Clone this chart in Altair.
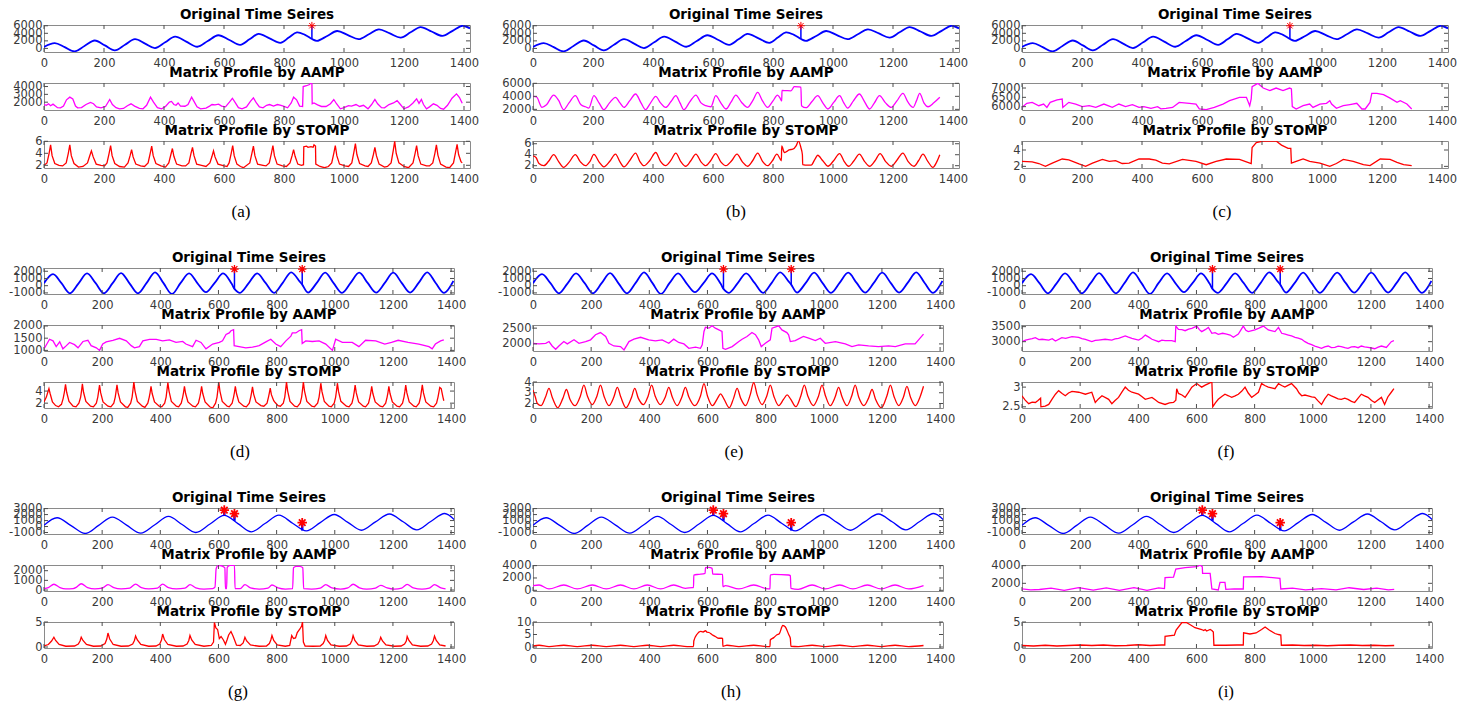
import altair as alt
import pandas as pd

# ---------------------------------------------------------------- ticks
X_TICKS = [0, 200, 400, 600, 800, 1000, 1200, 1400]

# ---------------------------------------------------------------- row 1: drifting sinusoid with one spike
R1_ORIG = [(0, 400), (36, 1400), (69, 330), (102, -780), (135, 650), (169, 2090), (203, 790), (236, -520),
           (270, 960), (303, 2440), (337, 1270), (370, 90), (404, 1610), (437, 3130), (474, 1780), (511, 435),
           (546, 1960), (581, 3480), (618, 2220), (654, 960), (685, 2400), (715, 3830), (752, 2650), (788, 1480),
           (816, 2870), (843, 4260), (870, 3600), (893, 2500), (910, 2000), (944, 3300), (977, 4610), (1013, 3520),
           (1049, 2440), (1083, 3750), (1116, 5050), (1153, 3960), (1189, 2870), (1222, 4260), (1255, 5650),
           (1292, 4480), (1328, 3300), (1362, 4650), (1395, 6000), (1420, 5300)]
R1_SPIKE_X = [893]
R1_SPIKE_LO = [2500]
R1_SPIKE_HI = [6000]

A_AAMP = [(0, 1700), (8, 1600), (15, 1800), (22, 1550), (30, 1750), (38, 1500), (45, 1300), (55, 1280), (65, 1500),
          (75, 2300), (86, 2640), (96, 2400), (105, 1500), (112, 1280), (125, 1300), (140, 1700), (155, 1960),
          (165, 1800), (175, 1400), (190, 1280), (205, 1450), (219, 2340), (228, 1700), (240, 1300), (252, 1150),
          (265, 1200), (278, 1550), (290, 1790), (302, 1500), (318, 1200), (330, 1150), (342, 1600), (355, 2640),
          (365, 2000), (378, 1300), (392, 1150), (405, 1450), (418, 2000), (425, 2090), (433, 1700), (440, 1600),
          (447, 1900), (455, 1500), (470, 1480), (480, 1700), (492, 2640), (500, 2100), (510, 1400), (522, 1150),
          (540, 1250), (552, 1500), (560, 1700), (570, 1650), (582, 1750), (592, 1500), (605, 1400), (618, 2000),
          (628, 2500), (638, 1900), (648, 1300), (660, 1150), (675, 1400), (688, 2100), (698, 2550), (708, 1900),
          (718, 1400), (730, 1280), (742, 1600), (752, 1700), (765, 1500), (778, 1700), (790, 1600), (800, 1450),
          (812, 1280), (824, 1900), (832, 2640), (842, 2300), (852, 1500), (862, 1450), (864, 4000), (875, 4100),
          (885, 4250), (890, 4470), (893, 4450), (894, 1790), (900, 1900), (912, 1650), (925, 1450), (940, 1450),
          (955, 1800), (966, 2340), (975, 1800), (988, 1150), (1000, 1300), (1015, 1550), (1025, 1500), (1040, 1700),
          (1052, 1450), (1065, 1600), (1080, 1150), (1092, 1700), (1103, 2340), (1112, 1800), (1125, 1300),
          (1135, 1280), (1150, 1700), (1165, 1900), (1177, 2200), (1188, 1700), (1200, 1150), (1215, 1400),
          (1230, 1900), (1242, 2430), (1250, 1850), (1258, 2350), (1265, 1700), (1275, 1150), (1285, 1400),
          (1298, 1790), (1310, 1600), (1322, 1200), (1332, 1100), (1345, 1600), (1360, 2500), (1375, 3060),
          (1385, 2600), (1394, 1870)]

A_STOMP = [(0, 2.0), (10, 2.4), (17, 4.0), (22, 5.4), (27, 3.6), (36, 2.3), (50, 2.0), (62, 1.9), (74, 2.4), (81, 4.0),
           (86, 5.4), (91, 3.6), (100, 2.3), (115, 1.7), (130, 1.8), (145, 2.4), (152, 3.5), (158, 4.4), (164, 3.4),
           (174, 2.2), (190, 2.0), (202, 1.9), (210, 2.4), (217, 4.0), (222, 5.3), (227, 3.6), (236, 2.3), (252, 1.8),
           (268, 1.7), (280, 2.4), (287, 3.6), (292, 4.6), (297, 3.4), (306, 2.2), (322, 1.9), (335, 1.8), (347, 2.4),
           (354, 4.0), (359, 5.2), (364, 3.6), (373, 2.3), (390, 1.9), (405, 1.7), (416, 2.4), (423, 3.8), (428, 4.8),
           (433, 3.5), (442, 2.2), (460, 1.9), (472, 1.9), (483, 2.4), (490, 4.0), (495, 5.0), (500, 3.6), (509, 2.2),
           (525, 2.0), (540, 1.8), (553, 2.4), (560, 3.5), (565, 4.4), (570, 3.4), (580, 2.2), (600, 1.9), (610, 1.8),
           (617, 2.4), (624, 4.0), (629, 5.3), (634, 3.6), (643, 2.2), (655, 1.8), (665, 1.6), (686, 2.4), (693, 4.0),
           (698, 5.2), (703, 3.6), (712, 2.2), (730, 2.0), (740, 1.9), (751, 2.4), (758, 4.0), (763, 5.3), (768, 3.6),
           (777, 2.2), (795, 1.9), (808, 1.8), (820, 2.4), (827, 3.6), (832, 4.6), (837, 3.5), (846, 2.2), (858, 2.0),
           (865, 2.1), (866, 5.1), (875, 5.2), (880, 5.0), (890, 5.1), (897, 5.0), (900, 5.4), (905, 5.2), (906, 2.2),
           (920, 1.8), (935, 1.6), (948, 1.8), (959, 2.4), (966, 4.0), (971, 5.3), (976, 3.6), (985, 2.2), (1003, 1.9),
           (1015, 1.8), (1026, 2.4), (1033, 4.2), (1038, 5.6), (1043, 3.8), (1052, 2.3), (1070, 1.9), (1080, 1.8),
           (1091, 2.4), (1098, 3.8), (1103, 5.0), (1108, 3.6), (1117, 2.2), (1135, 1.7), (1145, 1.8), (1157, 2.4),
           (1164, 4.4), (1169, 6.0), (1174, 4.0), (1183, 2.4), (1200, 1.8), (1215, 1.6), (1230, 2.4), (1237, 4.0),
           (1242, 5.3), (1247, 3.6), (1256, 2.2), (1275, 1.9), (1285, 1.9), (1296, 2.4), (1303, 4.0), (1308, 5.4),
           (1313, 3.7), (1322, 2.2), (1340, 1.7), (1352, 1.6), (1365, 2.4), (1372, 4.2), (1377, 5.5), (1382, 3.8),
           (1390, 2.6), (1394, 2.4)]

B_AAMP = [(0, 4000), (12, 3900), (30, 2300), (45, 2700), (69, 4200), (85, 3400), (102, 1950), (120, 3000), (141, 4100),
          (160, 2700), (175, 2400), (186, 2200), (203, 4100), (220, 3000), (236, 1950), (255, 3000), (275, 3850),
          (290, 3000), (303, 2300), (322, 3300), (342, 4360), (360, 3000), (375, 1950), (392, 3000), (409, 4000),
          (425, 3000), (442, 2300), (460, 3200), (476, 4100), (490, 3000), (503, 1950), (522, 3100), (543, 4200),
          (560, 3000), (576, 2560), (593, 2400), (609, 4100), (626, 3000), (643, 2050), (660, 3100), (676, 4200),
          (695, 3100), (715, 2300), (732, 3300), (749, 4600), (765, 3300), (782, 2300), (800, 3300), (815, 4200),
          (824, 3700), (829, 3300), (830, 4900), (845, 4870), (860, 4850), (871, 5500), (885, 5450), (893, 5400),
          (895, 2560), (910, 2250), (930, 3200), (949, 4100), (966, 3000), (983, 2050), (1003, 3100), (1022, 4100),
          (1036, 3000), (1049, 2200), (1068, 3300), (1088, 4360), (1105, 3200), (1122, 2050), (1138, 3000),
          (1155, 4100), (1175, 3000), (1194, 2300), (1213, 3300), (1233, 4460), (1250, 3100), (1267, 2300),
          (1278, 3300), (1289, 4460), (1303, 3000), (1317, 2400), (1336, 3000), (1356, 3850)]

B_STOMP = [(0, 3.8), (10, 3.5), (20, 2.4), (36, 2.0), (52, 2.8), (69, 4.0), (85, 2.8), (102, 1.7), (120, 2.6), (141, 4.0),
           (158, 2.7), (175, 2.0), (190, 2.8), (203, 4.05), (220, 2.7), (236, 1.8), (256, 2.8), (275, 4.1), (290, 2.7),
           (303, 1.8), (322, 2.9), (342, 4.3), (356, 2.8), (370, 2.0), (390, 3.0), (409, 4.4), (425, 2.8), (442, 2.0),
           (460, 3.0), (476, 4.3), (492, 2.8), (509, 1.9), (526, 2.9), (543, 4.1), (560, 2.7), (576, 2.0), (592, 2.9),
           (609, 4.2), (626, 2.7), (643, 2.0), (662, 2.9), (680, 4.1), (698, 2.7), (715, 1.9), (732, 2.9), (749, 4.3),
           (765, 2.8), (782, 2.0), (798, 2.9), (813, 4.1), (824, 3.2), (828, 2.9), (829, 5.6), (838, 4.4), (846, 4.6),
           (854, 4.9), (866, 5.0), (877, 5.6), (885, 6.5), (893, 5.3), (898, 4.0), (899, 2.2), (915, 2.1), (927, 2.1),
           (940, 3.2), (949, 3.9), (966, 2.9), (983, 1.9), (1002, 2.9), (1022, 4.2), (1037, 2.8), (1052, 1.9),
           (1070, 2.9), (1088, 4.1), (1105, 2.8), (1122, 1.9), (1140, 2.9), (1157, 4.2), (1175, 2.8), (1194, 1.9),
           (1213, 3.0), (1233, 4.3), (1250, 2.8), (1270, 1.9), (1285, 2.9), (1300, 4.1), (1316, 2.8), (1333, 1.7),
           (1345, 2.6), (1356, 4.0)]

C_AAMP = [(0, 5960), (16, 6180), (34, 6230), (56, 6050), (72, 6140), (83, 5960), (94, 6230), (117, 6360), (134, 6410),
          (136, 5960), (156, 6230), (179, 6140), (201, 6000), (224, 6050), (246, 5960), (273, 6140), (301, 5960),
          (323, 6140), (345, 6000), (368, 6110), (390, 5960), (406, 6000), (430, 5910), (452, 6000), (463, 5880),
          (480, 5910), (502, 5960), (524, 6230), (558, 6180), (580, 6140), (591, 5880), (614, 5840), (641, 5960),
          (670, 6140), (692, 6320), (725, 6500), (748, 6500), (759, 6050), (764, 6410), (767, 7070), (786, 7250),
          (804, 7000), (826, 6860), (847, 7000), (870, 6860), (892, 7000), (898, 6950), (901, 6000), (914, 5875),
          (937, 6050), (959, 6140), (970, 5960), (993, 6140), (1015, 6180), (1026, 6320), (1032, 6140), (1048, 5910),
          (1071, 6050), (1093, 6110), (1116, 6180), (1133, 5875), (1144, 5875), (1160, 6230), (1166, 6710),
          (1183, 6710), (1205, 6640), (1227, 6460), (1250, 6230), (1261, 6320), (1283, 6140), (1299, 5875)]

C_STOMP = [(0, 2.6), (34, 2.55), (56, 2.35), (78, 2.0), (101, 2.4), (134, 2.9), (156, 2.8), (190, 2.3), (212, 2.0),
           (235, 2.4), (268, 2.85), (291, 2.6), (312, 2.7), (334, 2.35), (357, 2.4), (390, 2.9), (424, 2.9),
           (446, 2.75), (468, 2.4), (491, 2.3), (535, 2.85), (580, 2.6), (614, 2.2), (647, 2.6), (681, 2.9),
           (725, 2.85), (748, 2.55), (764, 2.35), (767, 4.3), (781, 4.9), (804, 5.1), (847, 5.1), (865, 4.6),
           (887, 4.2), (896, 4.2), (898, 2.4), (914, 2.6), (937, 2.9), (959, 2.6), (993, 2.4), (1026, 2.0),
           (1048, 2.35), (1071, 2.85), (1104, 2.6), (1138, 2.2), (1160, 2.1), (1194, 2.9), (1227, 2.85), (1250, 2.5),
           (1272, 2.2), (1299, 2.1)]

# ---------------------------------------------------------------- row 2: steady sinusoid with two spikes
R2_ORIG = [(0, 350), (31, 1600), (60, 350), (89, -1050), (119, 330), (148, 1700), (177, 380), (206, -1050),
           (236, 350), (265, 1750), (294, 330), (323, -1050), (353, 400), (382, 1850), (411, 350), (440, -1150),
           (470, 380), (499, 1700), (528, 330), (557, -900), (587, 400), (616, 1700), (645, 300), (655, -450),
           (674, -1000), (704, 350), (733, 1700), (762, 380), (791, -1000), (821, 400), (850, 1850), (879, 600),
           (888, 150), (908, -950), (938, 380), (967, 1800), (996, 350), (1025, -1000), (1055, 420), (1084, 1800),
           (1113, 380), (1142, -950), (1172, 380), (1201, 1800), (1230, 400), (1259, -950), (1289, 420), (1318, 1850),
           (1347, 380), (1376, -1000), (1408, 650)]
R2_SPIKE_X = [655, 888]
R2_SPIKE_LO = [-450, 150]
R2_SPIKE_HI = [2300, 2300]

D_AAMP = [(2, 1100), (19, 1455), (31, 1390), (42, 1155), (54, 1350), (65, 1065), (77, 1195), (88, 1325), (105, 1235),
          (117, 1105), (134, 1365), (151, 1415), (162, 1195), (180, 1105), (191, 1000), (202, 1260), (214, 1350),
          (237, 1415), (260, 1495), (283, 1390), (300, 1195), (311, 1105), (328, 1155), (340, 1390), (363, 1455),
          (386, 1455), (408, 1390), (431, 1430), (454, 1325), (477, 1365), (488, 1260), (511, 1155), (523, 1415),
          (540, 1325), (557, 1065), (580, 1260), (603, 1325), (614, 1390), (626, 1650), (637, 1715), (643, 1805),
          (652, 1845), (654, 1195), (671, 1155), (694, 1105), (717, 1130), (740, 1195), (763, 1350), (780, 1455),
          (797, 1260), (814, 1155), (832, 1390), (849, 1585), (854, 1715), (866, 1715), (877, 1805), (886, 1845),
          (888, 1285), (900, 1390), (923, 1365), (946, 1390), (969, 1260), (992, 1000), (1003, 1455), (1026, 1325),
          (1060, 1325), (1083, 1155), (1106, 1415), (1141, 1390), (1172, 1260), (1195, 1325), (1218, 1415),
          (1252, 1325), (1289, 1260), (1324, 1155), (1335, 1065), (1346, 1260), (1364, 1390), (1375, 1430)]

D_STOMP = [(0, 2.2), (8, 3.0), (13, 3.8), (17, 4.4), (21, 3.6), (29, 2.2), (40, 1.6), (50, 1.4), (60, 1.8), (66, 2.8),
           (70, 3.8), (74, 5.1), (78, 3.8), (86, 2.3), (100, 1.5), (110, 1.4), (120, 2.0), (126, 3.0), (129, 4.0),
           (132, 5.2), (136, 3.8), (144, 2.3), (160, 1.5), (170, 1.4), (180, 2.0), (185, 3.0), (188, 4.0), (191, 5.0),
           (195, 3.7), (203, 2.2), (220, 1.5), (230, 1.4), (240, 2.0), (245, 3.0), (248, 4.0), (251, 5.05), (255, 3.7),
           (263, 2.2), (280, 1.4), (288, 1.3), (298, 2.0), (303, 3.0), (306, 4.2), (309, 5.5), (313, 4.0), (321, 2.3),
           (338, 1.5), (347, 1.3), (357, 2.0), (362, 3.0), (365, 3.8), (368, 4.8), (372, 3.6), (380, 2.2), (396, 1.5),
           (405, 1.4), (415, 2.0), (420, 3.0), (423, 4.2), (426, 5.4), (430, 4.0), (438, 2.3), (455, 1.5), (463, 1.4),
           (472, 2.0), (477, 3.0), (480, 3.8), (483, 4.8), (487, 3.6), (495, 2.2), (512, 1.5), (521, 1.4), (531, 2.0),
           (536, 3.0), (539, 3.8), (542, 4.8), (546, 3.6), (554, 2.2), (570, 1.4), (580, 1.2), (590, 2.0), (595, 3.0),
           (598, 4.2), (601, 5.5), (605, 4.0), (613, 2.3), (630, 1.5), (637, 1.4), (647, 2.0), (652, 3.0), (655, 3.8),
           (658, 4.8), (662, 3.6), (670, 2.2), (687, 1.5), (696, 1.4), (706, 2.0), (711, 3.0), (714, 3.8), (717, 4.7),
           (721, 3.5), (729, 2.2), (746, 1.6), (756, 1.5), (767, 2.0), (772, 3.0), (775, 3.7), (778, 4.5), (782, 3.4),
           (790, 2.4), (795, 2.1), (805, 1.6), (813, 1.5), (823, 2.0), (828, 3.0), (831, 4.2), (834, 5.5), (838, 4.0),
           (846, 2.3), (862, 1.5), (871, 1.4), (881, 2.0), (886, 3.0), (889, 4.2), (892, 5.5), (896, 4.0), (904, 2.3),
           (921, 1.5), (930, 1.4), (941, 2.0), (946, 3.0), (949, 4.1), (952, 5.3), (956, 3.9), (964, 2.3), (980, 1.5),
           (988, 1.4), (998, 2.0), (1003, 3.0), (1006, 4.1), (1009, 5.3), (1013, 3.9), (1021, 2.3), (1040, 1.5),
           (1049, 1.4), (1059, 2.0), (1064, 3.0), (1067, 3.9), (1070, 5.0), (1074, 3.7), (1082, 2.2), (1098, 1.5),
           (1106, 1.4), (1116, 2.0), (1121, 3.0), (1124, 3.8), (1127, 4.8), (1131, 3.6), (1139, 2.2), (1156, 1.5),
           (1165, 1.4), (1175, 2.0), (1180, 3.0), (1183, 3.8), (1186, 4.8), (1190, 3.6), (1198, 2.2), (1214, 1.5),
           (1223, 1.4), (1233, 2.0), (1238, 3.0), (1241, 3.9), (1244, 5.0), (1248, 3.7), (1256, 2.2), (1272, 1.5),
           (1280, 1.4), (1290, 2.0), (1295, 3.0), (1298, 4.0), (1301, 5.05), (1305, 3.7), (1313, 2.2), (1330, 1.5),
           (1340, 1.4), (1350, 2.0), (1355, 3.0), (1358, 3.8), (1361, 4.6), (1366, 4.4), (1372, 3.0), (1375, 2.4)]

E_AAMP = [(0, 2020), (21, 2000), (44, 2020), (55, 2075), (66, 1935), (78, 1830), (89, 1935), (106, 2075), (118, 2000),
          (141, 2130), (158, 2020), (181, 2075), (198, 2130), (215, 2290), (232, 2360), (250, 2235), (261, 2020),
          (278, 1935), (301, 1915), (313, 1810), (330, 2075), (347, 2150), (370, 2210), (398, 2130), (421, 2095),
          (444, 2130), (467, 2020), (484, 2150), (501, 2045), (519, 2000), (536, 1860), (559, 1895), (576, 1860),
          (582, 1970), (588, 2395), (593, 2530), (605, 2500), (616, 2575), (627, 2500), (650, 2395), (653, 1860),
          (662, 1830), (685, 1915), (708, 2075), (719, 2150), (736, 2235), (753, 2360), (765, 2290), (776, 2130),
          (785, 1915), (799, 2020), (816, 2130), (822, 2500), (845, 2575), (856, 2445), (873, 2360), (879, 2290),
          (885, 2075), (902, 2105), (930, 2235), (948, 2180), (971, 2105), (988, 2180), (1005, 2020), (1040, 2075),
          (1074, 2000), (1097, 1915), (1120, 1970), (1154, 1935), (1188, 1915), (1223, 1935), (1246, 1915),
          (1280, 2000), (1314, 2000), (1326, 2130), (1343, 2310)]

E_STOMP = [(0, 3.25), (8, 2.6), (15, 2.0), (28, 1.8), (43, 2.6), (55, 3.4), (67, 2.5), (85, 1.6), (103, 2.5), (115, 3.3),
           (127, 2.4), (145, 1.8), (163, 2.7), (175, 3.7), (187, 2.7), (204, 1.9), (220, 2.7), (232, 3.7), (244, 2.7),
           (261, 1.8), (278, 2.6), (290, 3.5), (302, 2.6), (320, 1.6), (338, 2.5), (350, 3.4), (362, 2.5), (380, 1.9),
           (396, 2.7), (408, 3.7), (420, 2.7), (438, 1.9), (455, 2.6), (467, 3.5), (479, 2.6), (496, 1.8), (512, 2.6),
           (524, 3.5), (536, 2.6), (556, 1.8), (576, 2.7), (588, 3.85), (600, 2.7), (617, 1.8), (635, 2.5), (645, 2.9),
           (657, 2.4), (675, 1.6), (690, 2.5), (702, 3.4), (714, 2.5), (731, 1.8), (747, 2.8), (759, 3.95), (771, 2.8),
           (788, 1.9), (804, 2.7), (816, 3.7), (828, 2.7), (845, 1.8), (862, 2.4), (874, 2.8), (886, 2.4), (904, 1.7),
           (921, 2.7), (933, 3.7), (945, 2.7), (964, 1.8), (982, 2.7), (994, 3.7), (1006, 2.7), (1022, 1.8),
           (1039, 2.6), (1051, 3.5), (1063, 2.6), (1080, 1.8), (1096, 2.7), (1108, 3.7), (1120, 2.6), (1138, 1.8),
           (1154, 2.5), (1166, 3.3), (1178, 2.4), (1198, 1.6), (1217, 2.7), (1229, 3.7), (1241, 2.7), (1258, 1.8),
           (1274, 2.6), (1286, 3.6), (1298, 2.6), (1315, 1.8), (1331, 2.6), (1343, 3.6)]

F_AAMP = [(0, 3000), (12, 3050), (23, 3080), (35, 3100), (46, 3135), (58, 3070), (69, 3080), (92, 3055), (104, 3100),
          (115, 3020), (137, 3135), (150, 3110), (172, 3165), (195, 3145), (206, 3100), (218, 3080), (240, 3000),
          (252, 3040), (263, 3055), (286, 3080), (309, 3055), (320, 3090), (332, 3110), (355, 3190), (366, 3150),
          (378, 3110), (401, 3055), (413, 3120), (424, 3220), (436, 3150), (447, 3080), (470, 3000), (481, 3050),
          (492, 3035), (515, 3035), (527, 3000), (529, 3520), (538, 3410), (550, 3400), (561, 3365), (573, 3420),
          (584, 3445), (601, 3520), (610, 3400), (618, 3335), (630, 3400), (641, 3475), (653, 3280), (664, 3300),
          (675, 3245), (690, 3280), (704, 3255), (716, 3220), (727, 3145), (744, 3255), (761, 3520), (770, 3380),
          (778, 3335), (801, 3390), (815, 3450), (830, 3520), (847, 3390), (860, 3360), (870, 3335), (882, 3475),
          (893, 3280), (905, 3250), (916, 3220), (927, 3190), (939, 3145), (950, 3120), (962, 3080), (973, 3000),
          (984, 2945), (996, 2900), (1007, 2855), (1018, 2820), (1030, 2780), (1041, 2830), (1053, 2855),
          (1064, 2800), (1076, 2810), (1087, 2850), (1098, 2835), (1110, 2800), (1121, 2780), (1133, 2830),
          (1144, 2835), (1156, 2800), (1167, 2855), (1178, 2830), (1190, 2810), (1202, 2790), (1213, 2765),
          (1225, 2820), (1236, 2855), (1253, 2810), (1270, 3000), (1279, 3035)]

F_STOMP = [(0, 2.78), (11, 2.67), (23, 2.58), (35, 2.62), (46, 2.61), (55, 2.66), (64, 2.72), (65, 2.5), (80, 2.52),
           (92, 2.56), (104, 2.7), (115, 2.82), (126, 2.91), (138, 2.84), (149, 2.78), (160, 2.85), (172, 2.89),
           (195, 2.87), (206, 2.85), (218, 2.82), (240, 2.87), (252, 2.61), (263, 2.7), (275, 2.78), (298, 2.69),
           (309, 2.58), (320, 2.66), (332, 2.74), (344, 2.88), (355, 3.0), (366, 2.92), (378, 2.87), (401, 2.82),
           (412, 2.76), (424, 2.69), (447, 2.74), (458, 2.68), (470, 2.61), (492, 2.56), (507, 2.6), (521, 2.61),
           (529, 2.67), (532, 2.96), (538, 2.84), (550, 2.8), (561, 2.74), (572, 2.86), (584, 3.0), (601, 3.09),
           (610, 3.04), (618, 3.0), (630, 3.05), (641, 3.09), (653, 3.13), (656, 2.5), (665, 2.6), (675, 2.69),
           (687, 2.76), (698, 2.82), (710, 2.78), (721, 2.74), (733, 2.78), (744, 2.82), (756, 2.9), (767, 3.0),
           (778, 2.85), (790, 2.74), (801, 2.8), (813, 2.87), (824, 3.09), (835, 3.04), (847, 3.0), (858, 2.98),
           (870, 2.96), (882, 3.09), (893, 3.04), (904, 3.0), (916, 3.05), (927, 3.09), (944, 2.96), (953, 2.85),
           (962, 2.78), (973, 2.8), (984, 2.78), (996, 2.75), (1007, 2.74), (1018, 2.65), (1030, 2.56), (1041, 2.7),
           (1053, 2.82), (1064, 2.78), (1076, 2.74), (1087, 2.7), (1098, 2.69), (1110, 2.72), (1121, 2.69),
           (1133, 2.64), (1144, 2.61), (1156, 2.72), (1167, 2.82), (1178, 2.78), (1190, 2.74), (1202, 2.66),
           (1213, 2.61), (1225, 2.68), (1236, 2.74), (1247, 2.56), (1258, 2.75), (1270, 2.87), (1279, 2.96)]

# ---------------------------------------------------------------- row 3: clean sinusoid with three spikes
R3_ORIG = [(0, 200), (45, 1470), (93, 150), (142, -1160), (188, 200), (235, 1580), (284, 230), (333, -1110),
           (380, 250), (428, 1690), (475, 330), (522, -1000), (571, 420), (620, 1850), (667, 480), (713, -890),
           (760, 500), (808, 1900), (855, 550), (902, -730), (950, 650), (998, 2010), (1045, 700), (1092, -620),
           (1140, 780), (1188, 2100), (1235, 800), (1282, -560), (1330, 850), (1378, 2180), (1412, 1100)]
R3_SPIKE_X = [620, 655, 888]
R3_SPIKE_LO = [1850, 950, -680]
R3_SPIKE_HI = [2750, 2150, 650]

G_AAMP = [(0, 150), (15, 250), (34, 600), (55, 250), (75, 120), (100, 150), (112, 300), (128, 650), (150, 250),
          (175, 120), (200, 200), (220, 560), (240, 250), (265, 120), (295, 200), (315, 620), (335, 250), (360, 120),
          (390, 200), (408, 620), (428, 250), (455, 120), (485, 200), (502, 550), (522, 230), (550, 100), (580, 150),
          (588, 300), (592, 2200), (597, 2500), (605, 2530), (615, 2450), (622, 2300), (624, 150), (628, 150),
          (630, 2350), (640, 2550), (655, 2550), (657, 150), (675, 150), (691, 550), (710, 220), (740, 100),
          (770, 200), (784, 520), (805, 220), (830, 100), (855, 150), (858, 2300), (867, 2450), (880, 2450),
          (890, 2300), (893, 150), (920, 100), (950, 200), (969, 550), (990, 220), (1020, 100), (1045, 220),
          (1063, 600), (1085, 230), (1110, 100), (1140, 200), (1158, 480), (1180, 220), (1205, 100), (1230, 200),
          (1249, 580), (1270, 230), (1300, 100), (1325, 200), (1343, 550), (1365, 230), (1381, 120)]

G_STOMP = [(0, 0.2), (15, 0.5), (26, 1.2), (34, 1.95), (40, 1.3), (52, 0.5), (75, 0.15), (105, 0.2), (118, 0.6),
           (124, 1.2), (128, 1.95), (134, 1.3), (146, 0.5), (170, 0.15), (195, 0.2), (210, 0.7), (216, 1.6),
           (220, 2.8), (226, 1.6), (238, 0.5), (265, 0.15), (290, 0.2), (305, 0.6), (311, 1.3), (315, 2.2),
           (321, 1.4), (333, 0.5), (360, 0.15), (385, 0.2), (398, 0.6), (404, 1.4), (408, 2.6), (414, 1.5),
           (426, 0.5), (455, 0.15), (478, 0.2), (492, 0.6), (498, 1.3), (502, 2.3), (508, 1.4), (520, 0.5),
           (550, 0.15), (575, 0.3), (583, 1.0), (586, 4.9), (591, 3.8), (597, 3.5), (603, 1.7), (609, 2.1),
           (617, 1.4), (624, 0.55), (630, 1.5), (635, 2.4), (643, 3.1), (650, 2.2), (654, 1.6), (662, 0.35),
           (675, 0.3), (685, 0.8), (691, 1.95), (697, 1.2), (710, 0.4), (740, 0.15), (765, 0.2), (775, 0.7),
           (780, 1.4), (784, 2.3), (790, 1.3), (802, 0.4), (830, 0.15), (845, 0.3), (852, 2.3), (858, 1.7),
           (865, 1.8), (871, 2.9), (880, 3.6), (886, 4.2), (889, 5.0), (892, 1.0), (898, 0.2), (925, 0.15),
           (950, 0.2), (960, 0.7), (965, 1.3), (969, 2.3), (975, 1.3), (987, 0.4), (1015, 0.15), (1040, 0.2),
           (1053, 0.6), (1059, 1.3), (1063, 2.3), (1069, 1.3), (1081, 0.4), (1110, 0.15), (1135, 0.2), (1148, 0.6),
           (1154, 1.2), (1158, 1.95), (1164, 1.2), (1176, 0.4), (1205, 0.15), (1228, 0.2), (1240, 0.6), (1246, 1.2),
           (1249, 2.1), (1255, 1.3), (1267, 0.4), (1295, 0.15), (1320, 0.2), (1333, 0.6), (1339, 1.3), (1343, 2.2),
           (1349, 1.3), (1361, 0.4), (1381, 0.2)]

H_AAMP = [(0, 760), (21, 860), (55, 220), (106, 860), (152, 220), (204, 860), (252, 220), (301, 860), (347, 220),
          (393, 860), (439, 220), (484, 860), (524, 330), (547, 440), (552, 450), (553, 2480), (570, 2590),
          (592, 2750), (593, 3670), (605, 3720), (616, 3560), (618, 2640), (650, 2590), (652, 2590), (653, 600),
          (662, 760), (708, 220), (759, 860), (810, 220), (815, 250), (816, 2480), (828, 2590), (879, 2480),
          (885, 2380), (887, 330), (912, 150), (960, 860), (1005, 220), (1055, 860), (1100, 220), (1150, 860),
          (1197, 220), (1245, 860), (1292, 220), (1343, 760)]

H_STOMP = [(0, 0.4), (21, 0.7), (55, 0.15), (106, 0.7), (152, 0.15), (204, 0.7), (252, 0.15), (301, 0.7), (347, 0.15),
           (393, 0.7), (439, 0.15), (484, 0.7), (530, 0.15), (552, 0.2), (553, 2.4), (564, 5.1), (576, 6.25),
           (585, 6.0), (593, 6.5), (599, 5.9), (605, 5.8), (616, 4.9), (627, 4.2), (639, 3.5), (650, 3.5), (652, 3.4),
           (653, 0.3), (667, 0.7), (708, 0.15), (759, 0.7), (805, 0.15), (815, 0.2), (816, 2.8), (828, 3.75),
           (839, 4.9), (847, 5.3), (859, 8.6), (868, 8.0), (879, 5.1), (885, 3.5), (887, 0.3), (912, 0.15),
           (960, 0.7), (1005, 0.15), (1055, 0.7), (1100, 0.15), (1150, 0.7), (1197, 0.15), (1245, 0.7), (1292, 0.15),
           (1343, 0.6)]

I_AAMP = [(0, 1360), (30, 1250), (60, 1300), (100, 1450), (145, 1210), (195, 1510), (245, 1220), (290, 1480),
          (335, 1210), (385, 1500), (430, 1210), (470, 1480), (490, 1400), (492, 2640), (521, 2700), (529, 3620),
          (561, 3770), (601, 3880), (613, 4060), (620, 3880), (621, 3130), (647, 3130), (653, 1360), (675, 1250),
          (681, 2110), (698, 2110), (701, 1320), (730, 1380), (761, 1360), (762, 2720), (824, 2760), (887, 2570),
          (890, 1360), (930, 1450), (975, 1250), (1030, 1400), (1080, 1250), (1125, 1500), (1175, 1300),
          (1220, 1450), (1260, 1250), (1280, 1320)]

I_STOMP = [(0, 0.3), (40, 0.2), (80, 0.35), (120, 0.2), (160, 0.3), (200, 0.4), (240, 0.3), (280, 0.4), (320, 0.25),
           (360, 0.3), (400, 0.45), (440, 0.3), (480, 0.4), (491, 0.4), (492, 2.15), (524, 2.35), (530, 3.4),
           (550, 4.9), (565, 4.9), (580, 4.4), (595, 3.85), (618, 3.5), (625, 3.3), (630, 3.5), (635, 3.2), (647, 3.5),
           (653, 3.3), (658, 3.0), (660, 0.35), (700, 0.35), (740, 0.4), (761, 0.4), (762, 2.85), (784, 2.6),
           (805, 2.8), (824, 3.5), (836, 4.0), (850, 3.4), (870, 2.7), (882, 2.5), (890, 2.4), (892, 0.35),
           (930, 0.4), (970, 0.3), (1010, 0.35), (1050, 0.25), (1090, 0.35), (1130, 0.4), (1170, 0.3), (1210, 0.35),
           (1250, 0.25), (1280, 0.3)]

# ---------------------------------------------------------------- styling
BLUE, MAGENTA, RED = "#0000ff", "#ff00ff", "#ff0000"
TICK_COLOR = "#4d4d4d"
LABEL_COLOR = "#3a3a3a"
ASTERISK = "M0,-1L0,1M-1,0L1,0M-0.7,-0.7L0.7,0.7M-0.7,0.7L0.7,-0.7"
# plain numbers: no thousands separator, ASCII hyphen for negatives
LABEL_EXPR = "datum.value < 0 ? '-' + format(-datum.value, '~g') : format(datum.value, '~g')"
AXIS_STYLE = dict(ticks=False, domain=False, grid=False, labelOverlap=False, labelFlush=False,
                  labelFont="DejaVu Sans", labelFontSize=11.5, labelColor=LABEL_COLOR, labelExpr=LABEL_EXPR)

ROWS = [
    dict(w=426, h=27, xmax=1420, orig=R1_ORIG, ydom=[-950, 6200], yticks=[0, 2000, 4000, 6000],
         spikes=(R1_SPIKE_X, R1_SPIKE_LO, R1_SPIKE_HI), orig_stroke=1.8, spike_stroke=1.5, star=(60, 1.0)),
    dict(w=410, h=26, xmax=1410, orig=R2_ORIG, ydom=[-1150, 2450], yticks=[-1000, 0, 1000, 2000],
         spikes=(R2_SPIKE_X, R2_SPIKE_LO, R2_SPIKE_HI), orig_stroke=1.8, spike_stroke=1.5, star=(70, 1.3)),
    dict(w=410, h=26, xmax=1410, orig=R3_ORIG, ydom=[-1250, 3100], yticks=[-1000, 0, 1000, 2000, 3000],
         spikes=(R3_SPIKE_X, R3_SPIKE_LO, R3_SPIKE_HI), orig_stroke=1.3, spike_stroke=2.5, star=(90, 1.8)),
]

PANELS = [
    [dict(cap="(a)", dx=-16, aamp=(A_AAMP, [1000, 4450], [2000, 3000, 4000], "linear"),
          stomp=(A_STOMP, [1.55, 6.05], [2, 4, 6], "linear")),
     dict(cap="(b)", dx=-10, aamp=(B_AAMP, [1900, 6050], [2000, 4000, 6000], "monotone"),
          stomp=(B_STOMP, [1.58, 6.5], [2, 4, 6], "monotone")),
     dict(cap="(c)", dx=-13, aamp=(C_AAMP, [5820, 7270], [6000, 6500, 7000], "linear"),
          stomp=(C_STOMP, [1.8, 5.1], [2, 4], "linear"))],
    [dict(cap="(d)", dx=-9, aamp=(D_AAMP, [975, 2040], [1000, 1500, 2000], "linear"),
          stomp=(D_STOMP, [1.2, 5.5], [2, 4], "linear")),
     dict(cap="(e)", dx=-4, aamp=(E_AAMP, [1775, 2600], [2000, 2500], "linear"),
          stomp=(E_STOMP, [1.58, 4.0], [2, 3, 4], "monotone")),
     dict(cap="(f)", dx=-1, aamp=(F_AAMP, [2690, 3555], [3000, 3500], "linear"),
          stomp=(F_STOMP, [2.47, 3.13], [2.5, 3], "linear"))],
    [dict(cap="(g)", dx=-11, aamp=(G_AAMP, [-100, 2590], [0, 1000, 2000], "monotone"),
          stomp=(G_STOMP, [-0.2, 5.0], [0, 5], "linear")),
     dict(cap="(h)", dx=-7, aamp=(H_AAMP, [-110, 4100], [0, 2000, 4000], "monotone"),
          stomp=(H_STOMP, [-0.4, 10], [0, 5, 10], "monotone")),
     dict(cap="(i)", dx=-1, aamp=(I_AAMP, [1130, 4075], [2000, 4000], "linear"),
          stomp=(I_STOMP, [-0.2, 5.0], [0, 5], "linear"))],
]


def subplot(title, pts, color, ydom, yticks, row, interp, stroke, spikes=None, caption=None, dx=0):
    w, h = row["w"], row["h"]
    xs = alt.Scale(domain=[0, row["xmax"]], nice=False, zero=False)
    ys = alt.Scale(domain=ydom, nice=False, zero=False)
    x_axis = alt.Axis(values=X_TICKS, labelPadding=5, **AXIS_STYLE)
    y_axis = alt.Axis(values=yticks, labelPadding=2, **AXIS_STYLE)

    # every layer carries the same scale and axis definition, so the merged axis stays intact
    def xe(field):
        return alt.X(field, type="quantitative", scale=xs, axis=x_axis, title=None)

    def ye(field):
        return alt.Y(field, type="quantitative", scale=ys, axis=y_axis, title=None)

    df = pd.DataFrame(pts, columns=["x", "y"])
    df["i"] = range(len(df))

    layers = [
        alt.Chart(df).mark_line(color=color, strokeWidth=stroke, interpolate=interp, clip=True).encode(
            x=xe("x"), y=ye("y"), order="i:Q"
        )
    ]

    # MATLAB-style box ticks pointing into the plot on all four sides
    xt = alt.Chart(pd.DataFrame({"t": X_TICKS}))
    yt = alt.Chart(pd.DataFrame({"t": yticks}))
    rule = dict(color=TICK_COLOR, strokeWidth=1)
    layers += [
        xt.mark_rule(**rule).encode(x=xe("t"), y=alt.value(0), y2=alt.value(4)),
        xt.mark_rule(**rule).encode(x=xe("t"), y=alt.value(h - 4), y2=alt.value(h)),
        yt.mark_rule(**rule).encode(y=ye("t"), x=alt.value(0), x2=alt.value(4)),
        yt.mark_rule(**rule).encode(y=ye("t"), x=alt.value(w - 4), x2=alt.value(w)),
    ]

    if spikes is not None:
        sx, lo, hi = spikes
        sdf = pd.DataFrame({"x": sx, "lo": lo, "hi": hi})
        layers.append(
            alt.Chart(sdf).mark_rule(color=BLUE, strokeWidth=row["spike_stroke"]).encode(
                x=xe("x"), y=ye("lo"), y2="hi:Q"
            )
        )
        size, sw = row["star"]
        layers.append(
            alt.Chart(sdf).mark_point(shape=ASTERISK, size=size, filled=False, color=RED,
                                      strokeWidth=sw, opacity=1).encode(x=xe("x"), y=ye("hi"))
        )

    layers.append(
        alt.Chart(pd.DataFrame({"t": [title]})).mark_text(
            font="DejaVu Sans", fontSize=13.5, fontWeight="bold", color="black",
            align="center", baseline="alphabetic",
        ).encode(text="t:N", x=alt.value(w / 2), y=alt.value(-6))
    )
    if caption is not None:
        layers.append(
            alt.Chart(pd.DataFrame({"t": [caption]})).mark_text(
                font="Liberation Serif", fontSize=17, color="black", align="center", baseline="middle",
            ).encode(text="t:N", x=alt.value(w / 2 + dx), y=alt.value(h + 44))
        )
    return alt.layer(*layers).properties(width=w, height=h)


def spacer(h):
    return alt.Chart(pd.DataFrame({"v": [0]})).mark_point(opacity=0).encode(
        x=alt.value(0), y=alt.value(0)
    ).properties(width=10, height=h, view=alt.ViewBackground(strokeOpacity=0))


cells = []
for r, (row, panels) in enumerate(zip(ROWS, PANELS)):
    for p in panels:
        cells.append(subplot("Original Time Seires", row["orig"], BLUE, row["ydom"], row["yticks"], row,
                             "catmull-rom", row["orig_stroke"], spikes=row["spikes"]))
    for p in panels:
        pts, dom, ticks, interp = p["aamp"]
        cells.append(subplot("Matrix Profile by AAMP", pts, MAGENTA, dom, ticks, row, interp, 1.3))
    for p in panels:
        pts, dom, ticks, interp = p["stomp"]
        cells.append(subplot("Matrix Profile by STOMP", pts, RED, dom, ticks, row, interp, 1.3,
                             caption=p["cap"], dx=p["dx"]))
    if r < len(ROWS) - 1:
        cells.extend(spacer(38) for _ in panels)

chart = alt.concat(
    *cells, columns=3, spacing={"row": 31, "column": 63}, bounds="flush"
).properties(
    padding={"left": 8, "top": 7, "right": 4, "bottom": 2},
    background="white",
).configure_view(stroke="#8a8a8a", strokeWidth=1)

chart.save("out.html", embed_options={"renderer": "svg", "actions": False})
